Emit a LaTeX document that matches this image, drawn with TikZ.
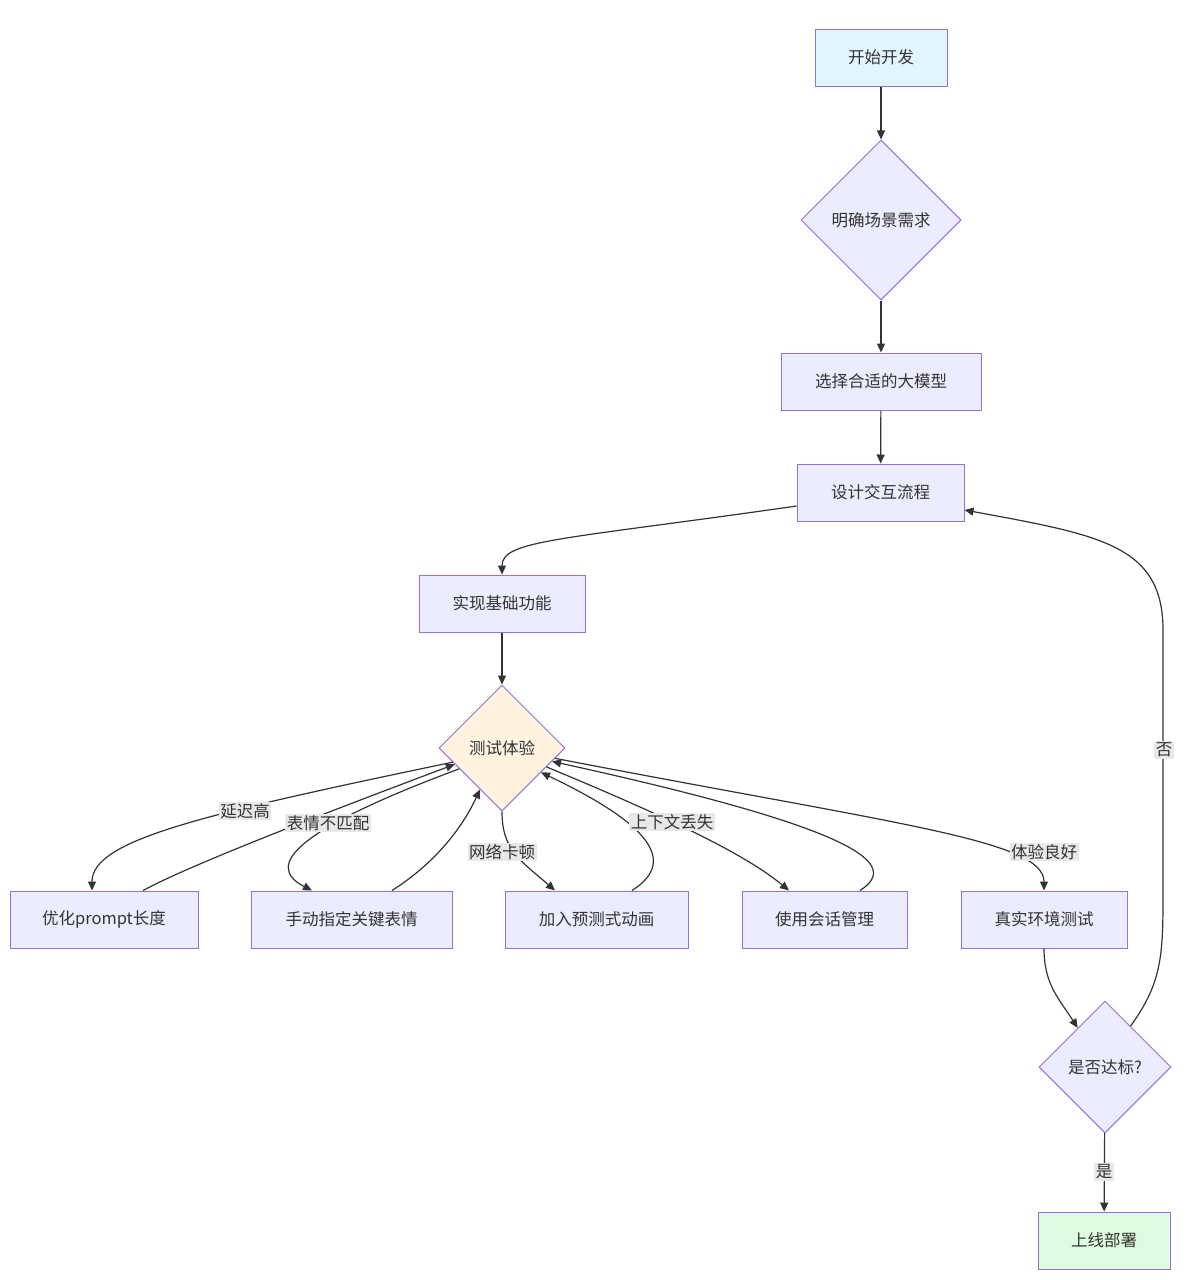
\documentclass[tikz,border=0pt]{standalone}
\usepackage{fontspec}
\setmainfont{Noto Sans CJK SC}
\usetikzlibrary{shapes.geometric,arrows.meta}
\definecolor{bord}{HTML}{9370DB}
\definecolor{boxfill}{HTML}{ECECFF}
\definecolor{startfill}{HTML}{E1F5FE}
\definecolor{testfill}{HTML}{FFF3E0}
\definecolor{endfill}{HTML}{DFFBDF}
\definecolor{lineclr}{HTML}{333333}
\definecolor{txt}{HTML}{333333}
\definecolor{lblfill}{HTML}{E8E8E8}
\begin{document}
\begin{tikzpicture}[x=1pt,y=-1pt,
  box/.style={draw=bord, fill=boxfill, line width=1pt, minimum height=57pt, inner sep=0pt, font=\fontsize{16.5}{19}\selectfont, text=txt},
  dia/.style={diamond, aspect=1, draw=bord, fill=boxfill, line width=1pt, inner sep=0pt, font=\fontsize{16.5}{19}\selectfont, text=txt},
  edge/.style={draw=lineclr, line width=1.2pt, -{Triangle[length=9pt,width=8pt]}},
  lbl/.style={fill=lblfill, text=txt, inner sep=1.5pt, font=\fontsize{16.5}{19}\selectfont}]
\useasboundingbox (0,0) rectangle (1204,1280);
\fill[white] (0,0) rectangle (1204,1280);

% nodes
\node[box, fill=startfill, minimum width=132pt] (start) at (881,57.5) {开始开发};
\node[dia, minimum width=160pt, minimum height=160pt] (req) at (881,220) {明确场景需求};
\node[box, minimum width=200pt] (model) at (881,381.5) {选择合适的大模型};
\node[box, minimum width=167pt] (design) at (880.5,492.5) {设计交互流程};
\node[box, minimum width=166pt] (impl) at (502,603.5) {实现基础功能};
\node[dia, fill=testfill, minimum width=126pt, minimum height=126pt] (test) at (502,748) {测试体验};
\node[box, minimum width=188pt] (opt) at (104,919.5) {优化prompt长度};
\node[box, minimum width=201pt] (manual) at (351.5,919.5) {手动指定关键表情};
\node[box, minimum width=183pt] (anim) at (596.5,919.5) {加入预测式动画};
\node[box, minimum width=165pt] (sess) at (824.5,919.5) {使用会话管理};
\node[box, minimum width=166pt] (real) at (1044,919.5) {真实环境测试};
\node[dia, minimum width=132pt, minimum height=132pt] (check) at (1105,1067) {是否达标?};
\node[box, fill=endfill, minimum width=132pt] (deploy) at (1104,1240.5) {上线部署};

% edges
\draw[edge] (start) -- (req);
\draw[edge] (req) -- (model);
\draw[edge] (model) -- (design);
\draw[edge] ([yshift=-13.5pt]design.west) .. controls (560,540) and (502,540) .. (impl.north);
\draw[edge] (impl) -- (test);

\draw[edge] (test.196) .. controls (200,815) and (92,840) .. ([xshift=-12pt]opt.north);
\draw[edge] ([xshift=39pt]opt.north) .. controls (190,865) and (320,815) .. (test.199);
\draw[edge] (test.206) .. controls (300,828) and (262,865) .. ([xshift=-39.5pt]manual.north);
\draw[edge] ([xshift=40.5pt]manual.north) .. controls (440,860) and (465,822) .. (test.242);
\draw[edge] (test.south) .. controls (502,850) and (520,860) .. ([xshift=-41.5pt]anim.north);
\draw[edge] ([xshift=35.5pt]anim.north) .. controls (672,865) and (662,830) .. (test.328);
\draw[edge] (test.337) .. controls (650,810) and (740,850) .. ([xshift=-35.5pt]sess.north);
\draw[edge] ([xshift=35.5pt]sess.north) .. controls (900,865) and (865,830) .. (test.345);
\draw[edge] (test.349) .. controls (900,825) and (1044,840) .. (real.north);
\draw[edge] (real.south) .. controls (1044,985) and (1060,1000) .. (check.125);
\draw[edge] (check.58) .. controls (1160,985) and (1163,960) .. (1163,900) -- (1163,630) .. controls (1163,545) and (1100,535) .. ([yshift=-17.5pt]design.east);
\draw[edge] (check) -- (deploy);

% labels
\node[lbl] (l1) at (245,811) {延迟高};
\node[lbl] (l2) at (328,823) {表情不匹配};
\node[lbl] (l3) at (502,852) {网络卡顿};
\node[lbl] (l4) at (672,822) {上下文丢失};
\node[lbl] (l5) at (1044,852) {体验良好};
\node[lbl] (l6) at (1164,750) {否};
\node[lbl] (l7) at (1104,1172) {是};
\end{tikzpicture}
\end{document}
